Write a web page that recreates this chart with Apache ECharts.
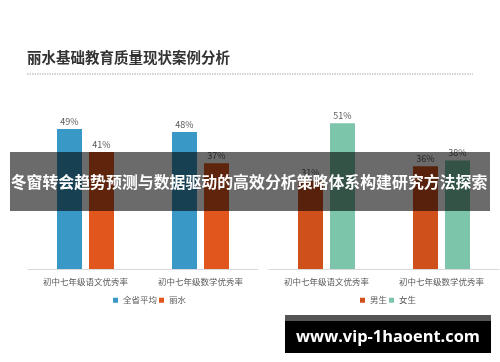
<!DOCTYPE html>
<html><head><meta charset="utf-8">
<script src="https://cdn.jsdelivr.net/npm/echarts@6/dist/echarts.min.js"></script>
<style>html,body{margin:0;padding:0;background:#fff}#c{width:500px;height:362px}</style>
</head><body><div id="c"></div>
<script>
const titleText = '丽水基础教育质量现状案例分析';
const categories = ['初中七年级语文优秀率', '初中七年级数学优秀率'];
const provinceAvg = [49, 48];
const lishui = [41, 37];
const boys = [31, 36];
const girls = [51, 38];
const bannerText = '冬窗转会趋势预测与数据驱动的高效分析策略体系构建研究方法探索';
const siteText = 'www.vip-1haoent.com';

const FONT = '"Noto Sans CJK SC", "Noto Sans", sans-serif';
const labelCfg = {show: true, position: 'top', distance: 3, formatter: '{c}%', color: '#595959', fontSize: 9, fontFamily: FONT};
function xAx(i) {
  return {type: 'category', gridIndex: i, data: categories,
    axisLine: {lineStyle: {color: '#d9d9d9'}}, axisTick: {show: false},
    axisLabel: {color: '#595959', fontSize: 8.5, margin: 9, fontFamily: FONT}};
}
function yAx(i) {
  return {type: 'value', gridIndex: i, min: 0, max: 60, show: false, splitLine: {show: false}};
}
function bar(name, data, i, color) {
  return {name, type: 'bar', data, xAxisIndex: i, yAxisIndex: i, barWidth: 25, barGap: '28%',
    itemStyle: {color}, label: labelCfg};
}
const legendText = {fontSize: 8.5, color: '#595959', fontFamily: FONT};
const chart = echarts.init(document.getElementById('c'), null, {renderer: 'canvas'});
chart.setOption({
  animation: false,
  textStyle: {fontFamily: FONT},
  title: {text: titleText, left: 27, top: 50, padding: 0,
    textStyle: {fontSize: 14.5, fontWeight: 'bold', color: '#333', fontFamily: FONT}},
  grid: [
    {left: 28, width: 230, top: 97.6, bottom: 93},
    {left: 269, width: 230, top: 97.6, bottom: 93}
  ],
  xAxis: [xAx(0), xAx(1)],
  yAxis: [yAx(0), yAx(1)],
  legend: [
    {data: ['全省平均', '丽水'], left: 108, top: 291, itemWidth: 5, itemHeight: 5, itemGap: 2,
      textStyle: legendText, icon: 'rect'},
    {data: ['男生', '女生'], left: 355, top: 291, itemWidth: 5, itemHeight: 5, itemGap: 2,
      textStyle: legendText, icon: 'rect'}
  ],
  series: [
    bar('全省平均', provinceAvg, 0, '#3a98c6'),
    bar('丽水', lishui, 0, '#e0561d'),
    bar('男生', boys, 1, '#d0501c'),
    bar('女生', girls, 1, '#7cc5aa')
  ],
  graphic: [
    {type: 'line', shape: {x1: 27, y1: 74, x2: 473, y2: 74}, style: {stroke: '#aaa', lineWidth: 1, lineDash: [1.5, 1]}},
    {type: 'rect', shape: {x: 10, y: 152, width: 480, height: 59}, style: {fill: 'rgba(0,0,0,0.58)'}, z: 100},
    {type: 'text', x: 249, y: 182, z: 101, style: {text: bannerText, fill: '#fff', fontSize: 15.9, fontWeight: 'bold',
      fontFamily: FONT, align: 'center', verticalAlign: 'middle'}},
    {type: 'rect', shape: {x: 285, y: 315, width: 206, height: 6}, style: {fill: '#555'}, z: 100},
    {type: 'rect', shape: {x: 285, y: 321, width: 206, height: 32}, style: {fill: '#000'}, z: 100},
    {type: 'text', x: 388, y: 337, z: 101, style: {text: siteText, fill: '#fff', fontSize: 16.4, fontWeight: 'bold',
      fontFamily: '"Open Sans", "DejaVu Sans", sans-serif', align: 'center', verticalAlign: 'middle'}}
  ]
});
</script></body></html>
